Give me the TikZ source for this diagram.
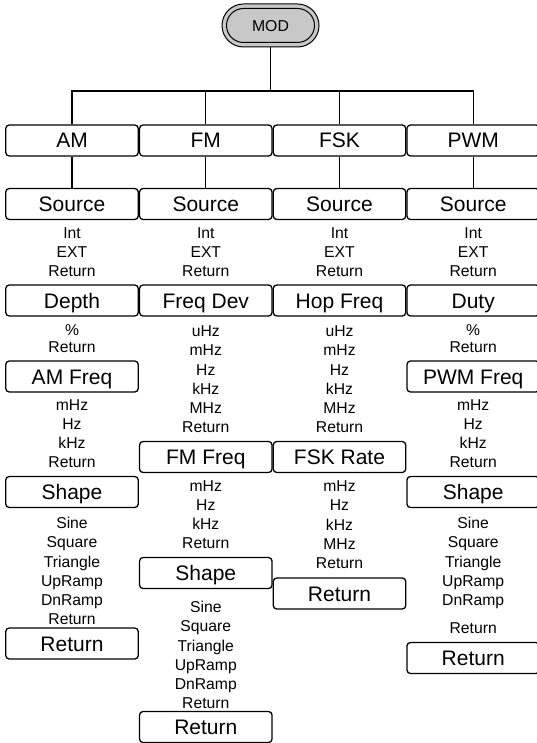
\documentclass[tikz,border=0pt]{standalone}
\usepackage{fontspec}
\setmainfont{Liberation Sans}
\usetikzlibrary{shapes.misc}
\definecolor{modgray}{RGB}{200,200,200}
\tikzset{
  menubox/.style={draw, line width=1.3pt, rounded corners=3.5pt, minimum width=132.5pt,
    minimum height=31pt, inner sep=0pt, text height=15pt, text depth=0pt,
    font=\fontsize{21}{25}\selectfont},
  opt/.style={inner sep=0pt, text height=11.2pt, text depth=0pt,
    font=\fontsize{15.7}{19}\selectfont},
  conn/.style={line width=1.3pt},
  pillouter/.style={rounded rectangle, draw, line width=1pt, fill=modgray,
    minimum width=97pt, minimum height=43pt, inner sep=0pt},
  pillinner/.style={rounded rectangle, draw, line width=1pt,
    minimum width=88pt, minimum height=34pt, inner sep=0pt,
    text height=11.3pt, text depth=0pt, font=\fontsize{15.8}{19}\selectfont},
}
\newcommand\optlist[5]{%
  \foreach \t [count=\i] in {#5} {\node[opt] (#1-\i) at (#2, {#3+#4*(\i-1)}) {\t};}}
\begin{document}
\begin{tikzpicture}[x=1pt, y=-1pt]
\useasboundingbox (0,0) rectangle (536,743);
% column centres
\def\ca{72}\def\cb{205.8}\def\cc{339.5}\def\cd{473.2}
% MOD key
\node[pillouter] (modout) at (270.5,25.5) {};
\node[pillinner] (mod) at (270.5,25.5) {MOD};
\coordinate (bus) at (270.5,91);
% top level
\node[menubox] (am)  at (\ca,140.5) {AM};
\node[menubox] (fm)  at (\cb,140.5) {FM};
\node[menubox] (fsk) at (\cc,140.5) {FSK};
\node[menubox] (pwm) at (\cd,140.5) {PWM};
\draw[conn] (modout.south) -- (bus);
\draw[conn] (am.north) |- (bus);
\draw[conn] (pwm.north) |- (bus);
\draw[conn] (fm.north) -- (fm.north |- bus);
\draw[conn] (fsk.north) -- (fsk.north |- bus);
% source row
\node[menubox] (amsrc)  at (\ca,204) {Source};
\node[menubox] (fmsrc)  at (\cb,204) {Source};
\node[menubox] (fsksrc) at (\cc,204) {Source};
\node[menubox] (pwmsrc) at (\cd,204) {Source};
\draw[conn] (am.south) -- (amsrc.north);
\draw[conn] (fm.south) -- (fmsrc.north);
\draw[conn] (fsk.south) -- (fsksrc.north);
\draw[conn] (pwm.south) -- (pwmsrc.north);
\optlist{amsrcopt}{\ca}{233}{19}{Int,EXT,Return}
\optlist{fmsrcopt}{\cb}{233}{19}{Int,EXT,Return}
\optlist{fsksrcopt}{\cc}{233}{19}{Int,EXT,Return}
\optlist{pwmsrcopt}{\cd}{233}{19}{Int,EXT,Return}
% second row
\node[menubox] (amdepth) at (\ca,300.5) {Depth};
\node[menubox] (fmdev)   at (\cb,300.5) {Freq Dev};
\node[menubox] (fskhop)  at (\cc,300.5) {Hop Freq};
\node[menubox] (pwmduty) at (\cd,300.5) {Duty};
\optlist{amdepthopt}{\ca}{330}{17}{\%,Return}
\optlist{fmdevopt}{\cb}{331}{19.2}{uHz,mHz,Hz,kHz,MHz,Return}
\optlist{fskhopopt}{\cc}{331}{19.2}{uHz,mHz,Hz,kHz,MHz,Return}
\optlist{pwmdutyopt}{\cd}{330}{17}{\%,Return}
% AM column
\node[menubox] (amfreq) at (\ca,376.5) {AM Freq};
\optlist{amfreqopt}{\ca}{405}{19}{mHz,Hz,kHz,Return}
\node[menubox] (amshape) at (\ca,492) {Shape};
\optlist{amshapeopt}{\ca}{523}{19.2}{Sine,Square,Triangle,UpRamp,DnRamp,Return}
\node[menubox] (amret) at (\ca,643.5) {Return};
% FM column
\node[menubox] (fmfreq) at (\cb,457) {FM Freq};
\optlist{fmfreqopt}{\cb}{486}{19}{mHz,Hz,kHz,Return}
\node[menubox] (fmshape) at (\cb,573) {Shape};
\optlist{fmshapeopt}{\cb}{607}{19.2}{Sine,Square,Triangle,UpRamp,DnRamp,Return}
\node[menubox] (fmret) at (\cb,727) {Return};
% FSK column
\node[menubox] (fskrate) at (\cc,457) {FSK Rate};
\optlist{fskrateopt}{\cc}{486}{19.2}{mHz,Hz,kHz,MHz,Return}
\node[menubox] (fskret) at (\cc,593.5) {Return};
% PWM column
\node[menubox] (pwmfreq) at (\cd,376.5) {PWM Freq};
\optlist{pwmfreqopt}{\cd}{405}{19}{mHz,Hz,kHz,Return}
\node[menubox] (pwmshape) at (\cd,492) {Shape};
\optlist{pwmshapeopt}{\cd}{523}{19.2}{Sine,Square,Triangle,UpRamp,DnRamp}
\node[opt] (pwmshapeopt-6) at (\cd,628) {Return};
\node[menubox] (pwmret) at (\cd,658) {Return};
\end{tikzpicture}
\end{document}
